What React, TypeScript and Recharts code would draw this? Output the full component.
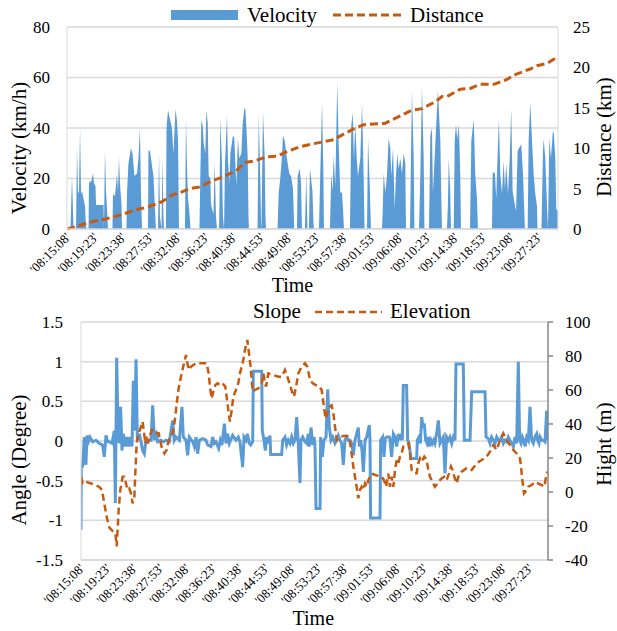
import React from 'react';
import { ComposedChart, Area, Line, XAxis, YAxis, CartesianGrid } from 'recharts';

// ---------- data ----------
const timeTickLabels = [
  '08:15:08', '08:19:23', '08:23:38', '08:27:53', '08:32:08', '08:36:23', '08:40:38', '08:44:53', '08:49:08',
  '08:53:23', '08:57:38', '09:01:53', '09:06:08', '09:10:23', '09:14:38', '09:18:53', '09:23:08', '09:27:23',
];
const endTime = '09:30:23';

// [seconds since 08:15:08, km/h]
const velocitySamples: [number, number][] = [
  [0,0],[32,0],[46,21],[60,0],[83,0],[92,32],[101,15],[110,14],[120,40],[129,14],[138,15],[152,12],[166,9],[175,0],
  [198,0],[202,18],[211,19],[221,18.5],[239,22],[248,18],[262,17],[267,9.5],[336,9.5],[340,0],[349,31],[359,15],[368,8],[377,0],
  [418,0],[423,14],[441,13],[460,22],[469,15],[478,28.6],[487,18],[501,10],[506,0],[547,0],[552,14.5],[565,26],[588,32],[602,30],
  [621,21],[644,22],[657,28],[671,40],[680,15],[690,0],[745,0],[749,31],[763,31],[782,25],[795,21],[809,8],[818,0],[837,0],
  [846,30],[855,5],[869,0],[878,28],[887,5],[892,0],[910,0],[915,40],[929,47],[947,43.5],[965,40],[979,30],[998,47.5],[1011,43],
  [1021,35],[1030,0],[1085,0],[1094,44],[1103,25],[1113,12],[1126,6],[1136,0],[1218,0],[1226,21],[1235,43],[1248,41],[1257,34],
  [1272,30],[1281,47],[1294,42],[1303,21],[1318,20],[1324,10],[1333,8],[1347,6],[1358,26],[1370,5],[1379,0],[1398,0],[1402,10],
  [1410,44],[1425,26],[1434,5],[1444,0],[1453,26],[1471,45],[1480,28],[1494,18],[1502,30],[1526,37],[1538,36],[1557,17],[1572,36],
  [1584,28],[1603,30],[1616,42],[1630,47.5],[1639,48],[1649,41],[1662,28],[1669,5],[1673,0],[1752,0],[1763,45],[1777,21],[1784,3],
  [1788,0],[1802,46.5],[1818,28],[1825,5],[1830,0],[1936,0],[1947,14.5],[1961,20],[1977,29],[1986,37],[2002,35],[2016,30],[2029,26],
  [2044,22],[2060,21],[2078,16],[2090,0],[2115,0],[2121,21],[2140,24],[2152,18],[2161,0],[2188,0],[2200,22],[2211,0],[2225,0],
  [2234,24],[2257,15],[2267,2],[2271,0],[2317,0],[2329,22],[2345,50],[2357,24],[2363,0],[2418,0],[2430,22],[2443,15],[2452,29],
  [2467,17],[2485,58],[2498,34],[2513,14.5],[2529,14.5],[2538,8],[2547,0],[2602,0],[2614,41],[2627,46],[2639,28],[2651,42],[2664,28],
  [2676,21],[2697,28],[2713,50],[2728,21],[2736,0],[2759,0],[2768,36],[2786,14.5],[2795,0],[2896,0],[2903,7],[2912,22],[2927,14.5],
  [2942,21],[2958,36],[2973,32],[2982,21],[2998,32],[3013,8],[3025,21],[3037,30],[3050,24],[3065,28],[3080,22],[3096,30],[3111,26],
  [3117,0],[3154,0],[3172,55],[3188,28],[3195,0],[3237,0],[3249,21],[3264,56],[3280,28],[3287,0],[3329,0],[3341,37],[3356,40],
  [3365,14.5],[3387,34],[3411,55],[3433,35],[3444,8],[3448,0],[3494,0],[3503,10],[3510,28],[3524,15],[3531,0],[3556,0],[3565,35],
  [3577,41.5],[3589,35.5],[3604,41.5],[3616,22],[3623,0],[3706,0],[3718,35],[3740,43.5],[3754,22],[3770,12],[3779,0],[3908,0],
  [3914,22],[3924,22.5],[3935,22],[3947,12],[3960,30],[3972,43.5],[3984,22],[4000,14],[4015,27],[4027,16],[4039,26],[4055,14],
  [4071,28],[4085,47.5],[4098,15],[4113,11],[4129,7],[4144,31],[4177,33.6],[4193,22],[4205,7],[4211,0],[4236,0],[4245,35],[4260,50],
  [4276,35],[4291,22],[4306,14],[4322,9],[4326,0],[4363,0],[4377,31],[4383,35.6],[4398,28],[4414,9],[4423,0],[4435,36],[4450,28],
  [4466,37.6],[4475,39],[4490,28],[4499,8],[4512,7],
];

// [seconds, km]
const distanceSamples: [number, number][] = [
  [0,0],[76,0.28],[230,0.9],[352,1.24],[490,1.73],[628,2.35],[751,2.76],[874,3.38],[965,4.2],[1057,4.6],[1131,5.0],[1223,5.2],
  [1315,5.85],[1441,6.47],[1563,7.3],[1639,8.25],[1717,8.4],[1839,8.95],[1931,9.0],[2023,9.57],[2145,10.2],[2283,10.6],[2437,11.0],
  [2498,11.4],[2559,11.85],[2651,12.5],[2728,12.9],[2927,13.1],[3050,13.9],[3172,14.7],[3264,14.9],[3387,15.75],[3448,16.4],
  [3494,16.4],[3616,17.3],[3708,17.4],[3800,17.9],[3924,17.9],[4046,18.5],[4107,19.05],[4199,19.5],[4260,19.8],[4322,20.2],
  [4414,20.5],[4506,21.25],[4515,21.3],
];

// [seconds, degree]
const slopeSamples: [number, number][] = [
  [0,-1.12],[3,-0.28],[16,-0.33],[32,0.05],[48,-0.3],[58,0.07],[74,0],[87,0.05],[113,-0.01],[145,0.01],[177,-0.03],[209,-0.05],
  [225,-0.2],[242,0.07],[258,-0.01],[274,-0.01],[300,-0.03],[322,0.13],[332,-0.78],[345,1.05],[358,0.13],[370,-0.03],[383,0.43],
  [396,-0.12],[409,0.09],[429,-0.07],[441,0.05],[461,-0.07],[474,0.05],[493,-0.07],[506,0.76],[519,0.13],[532,1.03],[545,0.01],
  [564,0.09],[583,-0.03],[596,-0.12],[612,-0.16],[628,0.01],[660,0.01],[677,0.01],[693,0.45],[709,0.01],[725,0.13],[741,-0.01],
  [773,0.01],[796,-0.01],[822,0.01],[854,-0.01],[886,0.26],[902,0.01],[918,0.05],[951,0.01],[976,0.43],[989,0.05],[1015,0.01],
  [1031,-0.18],[1047,0.05],[1080,-0.01],[1096,-0.07],[1112,0.05],[1128,-0.16],[1144,0.01],[1176,0.03],[1208,0.01],[1225,-0.05],
  [1257,-0.07],[1273,0.05],[1289,-0.03],[1305,-0.01],[1331,-0.09],[1347,0.01],[1363,-0.05],[1386,0.22],[1402,-0.03],[1418,0.09],
  [1434,-0.03],[1466,0.07],[1498,0.01],[1521,0.05],[1537,-0.01],[1563,-0.33],[1576,0.05],[1595,0.01],[1608,0.09],[1627,-0.03],
  [1640,-0.05],[1660,-0.01],[1666,0.88],[1747,0.88],[1753,0.13],[1769,0.01],[1782,-0.12],[1795,0.05],[1811,-0.03],[1827,0.07],
  [1834,-0.17],[1940,-0.17],[1950,0.01],[1972,0.05],[1988,-0.05],[2004,0.01],[2021,-0.03],[2037,0.05],[2053,-0.03],[2069,0.01],
  [2085,0.3],[2101,-0.03],[2117,-0.53],[2127,0.01],[2143,0.05],[2166,-0.01],[2182,-0.03],[2198,0.09],[2207,-0.07],[2224,0.17],
  [2240,-0.05],[2253,0.05],[2262,-0.05],[2272,-0.85],[2311,-0.85],[2317,0.05],[2333,-0.2],[2349,0.01],[2369,0.05],[2385,0.65],
  [2401,0.17],[2417,0.01],[2433,0.05],[2456,-0.03],[2472,0.01],[2488,0.07],[2504,0.01],[2520,-0.03],[2536,-0.3],[2552,0.01],
  [2568,0.05],[2585,0.01],[2601,0.01],[2617,-0.03],[2633,-0.18],[2649,0.01],[2665,0.09],[2681,0.17],[2691,-0.07],[2704,0.01],
  [2717,-0.12],[2730,-0.39],[2746,0.01],[2762,0.05],[2775,0.13],[2788,0.2],[2794,0.01],[2800,-0.97],[2891,-0.97],[2897,0.01],
  [2917,0.05],[2929,-0.2],[2942,0.03],[2955,0.05],[2981,0.05],[2987,0.03],[3003,-0.2],[3020,0.09],[3036,0.05],[3052,-0.07],
  [3068,0.09],[3084,0.01],[3094,0.09],[3107,0.01],[3116,0.7],[3148,0.7],[3158,0.01],[3171,-0.03],[3190,-0.22],[3245,-0.22],
  [3252,0.01],[3268,0.05],[3281,-0.03],[3294,0.3],[3306,0.17],[3319,0.22],[3332,0.01],[3345,-0.03],[3358,0.05],[3371,-0.07],
  [3384,0.01],[3397,-0.03],[3410,0.01],[3422,-0.03],[3442,0.13],[3455,0.26],[3471,-0.03],[3487,0.01],[3503,0.05],[3519,-0.41],
  [3535,0.05],[3551,0.01],[3567,0.05],[3584,-0.03],[3600,0.05],[3616,0.01],[3625,0.97],[3696,0.97],[3706,0.01],[3729,0.01],
  [3761,0.01],[3777,0.62],[3906,0.62],[3916,0.05],[3938,0.03],[3954,-0.03],[3970,0.05],[3986,0.01],[4003,-0.03],[4019,0.05],
  [4035,0.01],[4051,0.01],[4067,0.05],[4083,-0.03],[4099,0.01],[4115,-0.01],[4131,0.05],[4147,0.01],[4164,-0.03],[4180,-0.07],
  [4196,0.05],[4212,-0.03],[4228,1.0],[4241,0.01],[4254,-0.03],[4267,0.05],[4280,0.01],[4293,-0.07],[4309,0.05],[4325,0.01],
  [4341,0.43],[4357,0.01],[4373,-0.03],[4389,0.05],[4405,0.09],[4415,0.01],[4428,-0.03],[4438,0.05],[4454,0.01],[4470,0.01],
  [4486,-0.01],[4502,0.38],[4515,0.01],
];

// [seconds, m]
const elevationSamples: [number, number][] = [
  [0,9],[16,5],[48,6],[97,5],[145,4],[177,3],[203,1.2],[225,-6.7],[248,-14.5],[274,-21],[306,-23],[332,-24],[345,-32],[354,-22],
  [364,-10.6],[380,1.2],[403,9],[419,9],[435,5],[451,1.2],[467,2],[483,-0.8],[499,-6.7],[516,-2.7],[525,11],[538,28.6],[557,34.5],
  [580,38.4],[596,41.4],[606,36.5],[622,28.6],[635,32.5],[648,28.6],[667,33.5],[686,36.5],[709,36.5],[725,34.5],[751,34.5],
  [764,30.6],[783,25.7],[806,22.7],[828,24.7],[847,30.6],[870,32.5],[893,36.5],[912,44.3],[925,52],[944,61],[967,68],[989,74],
  [1015,80.6],[1031,74.7],[1047,71.8],[1063,73.7],[1086,74.7],[1112,75.7],[1160,75.7],[1215,75.7],[1234,69.8],[1247,62],[1263,55],
  [1279,59],[1299,62.9],[1321,63.9],[1344,62.9],[1369,63.9],[1395,62],[1408,56],[1424,48.2],[1440,41.4],[1457,48.2],[1473,56.1],
  [1498,60],[1521,64],[1537,69.8],[1553,73.7],[1569,77.6],[1585,83.5],[1608,89.4],[1624,81.6],[1640,73.7],[1650,65.9],[1660,59],
  [1682,60],[1714,61],[1747,63.9],[1763,69.8],[1779,63.9],[1789,62],[1811,69.8],[1859,68.8],[1908,67.8],[1940,67.8],[1972,71.8],
  [1995,67.8],[2021,62.9],[2046,58],[2059,56.1],[2079,61.9],[2101,69.8],[2133,73.7],[2166,75.7],[2188,73.7],[2214,65.9],[2240,63.9],
  [2272,62.9],[2304,61.9],[2327,60],[2349,50],[2365,43.1],[2385,47.1],[2401,50],[2423,51],[2440,46.1],[2456,38.4],[2472,30.6],
  [2504,32.5],[2536,32.9],[2575,32.9],[2594,31.6],[2607,26.7],[2620,20.8],[2633,15],[2649,9],[2665,3.1],[2681,-3.7],[2697,1.2],
  [2713,3.1],[2730,1.2],[2746,5],[2762,3.1],[2778,7],[2810,10.8],[2858,9.8],[2907,9],[2929,7],[2949,3.1],[2971,10.8],[2987,3.1],
  [3003,9],[3020,3.1],[3036,12.9],[3052,18.8],[3068,16.9],[3084,20.8],[3100,22.7],[3116,26.7],[3139,27.6],[3165,28.6],[3181,22.7],
  [3197,12.9],[3223,11],[3245,11],[3261,16.9],[3277,19.8],[3293,17.9],[3319,20.8],[3342,18.8],[3358,12.9],[3374,9],[3406,5],
  [3422,3.1],[3448,5],[3471,7],[3487,8],[3513,9],[3535,7],[3558,11],[3577,15],[3593,12.9],[3609,9],[3632,5],[3648,9],[3680,12],
  [3729,14],[3777,12.9],[3825,16.9],[3874,18.8],[3922,20.8],[3954,23.7],[3986,27.6],[4019,24.7],[4051,30.6],[4083,34.5],[4115,30.6],
  [4147,27.6],[4180,24.7],[4212,22.7],[4228,20.8],[4244,19.8],[4254,14.9],[4267,7],[4283,-0.8],[4309,1.2],[4325,3.1],[4357,4.1],
  [4389,6],[4421,5],[4454,4.1],[4480,3.1],[4496,9],[4509,12],
];

const velocityTicks = [0, 20, 40, 60, 80];
const distanceTicks = [0, 5, 10, 15, 20, 25];
const angleTicks = [-1.5, -1, -0.5, 0, 0.5, 1, 1.5];
const heightTicks = [-40, -20, 0, 20, 40, 60, 80, 100];

// ---------- helpers ----------
const FONT = "'Liberation Serif', 'Times New Roman', Times, 'DejaVu Serif', serif";
const BLUE = '#5B9BD5';
const ORANGE = '#C55A11';
const GRID = '#D9D9D9';

const toSec = (s: string) => {
  const [h, m, x] = s.split(':').map(Number);
  return h * 3600 + m * 60 + x;
};
const START = toSec(timeTickLabels[0]);
const END = toSec(endTime) - START;
const tickOffsets = timeTickLabels.map((l) => toSec(l) - START);
const pad = (n: number) => String(n).padStart(2, '0');
const fmtTime = (v: number) => {
  const s = START + Math.round(v);
  return `'${pad(Math.floor(s / 3600))}:${pad(Math.floor((s % 3600) / 60))}:${pad(s % 60)}'`;
};

function merge(series: Record<string, [number, number][]>) {
  const map = new Map<number, any>();
  Object.entries(series).forEach(([key, arr]) => {
    arr.forEach(([t, v]) => {
      const row = map.get(t) ?? { t };
      row[key] = v;
      map.set(t, row);
    });
  });
  return Array.from(map.values()).sort((a, b) => a.t - b.t);
}

const topData = merge({ vel: velocitySamples, dist: distanceSamples });
const bottomData = merge({ slope: slopeSamples, elev: elevationSamples });

const serif = { fontFamily: FONT };

const TimeTick = (props: any) => {
  const { x, y, payload } = props;
  const px = x + 1;
  const py = y;
  return (
    <text
      x={px}
      y={py}
      transform={`rotate(-45 ${px} ${py})`}
      textAnchor="end"
      dominantBaseline="central"
      fontSize={13}
      style={serif}
      fill="#000"
    >
      {fmtTime(payload.value)}
    </text>
  );
};

const NumTick = (props: any) => {
  const { x, y, payload, textAnchor } = props;
  return (
    <text x={x} y={y} dy="0.35em" textAnchor={textAnchor} fontSize={17} style={serif} fill="#000">
      {payload.value}
    </text>
  );
};

const T = (p: any) => <text {...p} style={serif} fill="#000" />;

export default function App() {
  return (
    <div style={{ position: 'absolute', left: 0, top: 0, width: 617, height: 631, background: '#fff', fontFamily: FONT }}>
      {/* Top chart */}
      <div style={{ position: 'absolute', left: 0, top: 0 }}>
        <ComposedChart width={617} height={290} data={topData} margin={{ top: 27, right: 0, left: 0, bottom: 0 }}>
          <CartesianGrid vertical={false} stroke={GRID} strokeWidth={1.5} yAxisId="v" />
          <XAxis
            dataKey="t"
            type="number"
            domain={[0, END]}
            ticks={tickOffsets}
            interval={0}
            height={61}
            tickSize={0}
            tickMargin={6}
            tickLine={false}
            axisLine={{ stroke: GRID, strokeWidth: 1.5 }}
            tick={<TimeTick />}
            allowDataOverflow
          />
          <YAxis
            yAxisId="v"
            orientation="left"
            width={67}
            domain={[0, 80]}
            ticks={velocityTicks}
            tickSize={0}
            tickMargin={17}
            tickLine={false}
            axisLine={{ stroke: GRID }}
            tick={<NumTick />}
          />
          <YAxis
            yAxisId="d"
            orientation="right"
            width={59}
            domain={[0, 25]}
            ticks={distanceTicks}
            tickSize={0}
            tickMargin={15}
            tickLine={false}
            axisLine={{ stroke: GRID }}
            tick={<NumTick />}
          />
          <Area
            yAxisId="v"
            type="linear"
            dataKey="vel"
            stroke="none"
            fill={BLUE}
            fillOpacity={1}
            connectNulls
            dot={false}
            activeDot={false}
            isAnimationActive={false}
          />
          <Line
            yAxisId="d"
            type="linear"
            dataKey="dist"
            stroke={ORANGE}
            strokeWidth={3}
            strokeDasharray="8 4"
            connectNulls
            dot={false}
            activeDot={false}
            isAnimationActive={false}
          />
        </ComposedChart>
      </div>

      {/* Bottom chart */}
      <div style={{ position: 'absolute', left: 0, top: 290 }}>
        <ComposedChart width={617} height={341} data={bottomData} margin={{ top: 32, right: 0, left: 0, bottom: 0 }}>
          <CartesianGrid vertical={false} stroke={GRID} strokeWidth={1.5} yAxisId="a" />
          <XAxis
            dataKey="t"
            type="number"
            domain={[0, END]}
            ticks={tickOffsets}
            interval={0}
            height={71}
            tickSize={0}
            tickMargin={6}
            tickLine={false}
            axisLine={{ stroke: GRID, strokeWidth: 1.5 }}
            tick={<TimeTick />}
            allowDataOverflow
          />
          <YAxis
            yAxisId="a"
            orientation="left"
            width={81}
            domain={[-1.5, 1.5]}
            ticks={angleTicks}
            tickSize={0}
            tickMargin={18}
            tickLine={false}
            axisLine={{ stroke: GRID }}
            tick={<NumTick />}
          />
          <YAxis
            yAxisId="h"
            orientation="right"
            width={69}
            domain={[-40, 100]}
            ticks={heightTicks}
            tickSize={5}
            tickMargin={12}
            tickLine={{ stroke: '#868686', strokeWidth: 1.5 }}
            axisLine={{ stroke: '#868686', strokeWidth: 1.5 }}
            tick={<NumTick />}
          />
          <Line
            yAxisId="a"
            type="linear"
            dataKey="slope"
            stroke={BLUE}
            strokeWidth={3}
            connectNulls
            dot={false}
            activeDot={false}
            isAnimationActive={false}
          />
          <Line
            yAxisId="h"
            type="linear"
            dataKey="elev"
            stroke={ORANGE}
            strokeWidth={2.5}
            strokeDasharray="7 4"
            connectNulls
            dot={false}
            activeDot={false}
            isAnimationActive={false}
          />
        </ComposedChart>
      </div>

      {/* Titles and legends */}
      <svg width={617} height={631} style={{ position: 'absolute', left: 0, top: 0, pointerEvents: 'none' }}>
        {/* top legend */}
        <rect x={171} y={10} width={67} height={10} fill={BLUE} />
        <T x={247} y={22} fontSize={21}>Velocity</T>
        <line x1={333} y1={15} x2={402} y2={15} stroke={ORANGE} strokeWidth={3} strokeDasharray="8 4" />
        <T x={410} y={22} fontSize={21}>Distance</T>
        {/* top axis titles */}
        <T x={25.7} y={148} fontSize={21} textAnchor="middle" transform="rotate(-90 25.7 148)">Velocity (km/h)</T>
        <T x={611} y={137} fontSize={21} textAnchor="middle" transform="rotate(-90 611 137)">Distance (km)</T>
        <T x={292.5} y={292} fontSize={20} textAnchor="middle">Time</T>
        {/* bottom legend */}
        <T x={253} y={318} fontSize={21}>Slope</T>
        <line x1={315} y1={312} x2={382} y2={312} stroke={ORANGE} strokeWidth={2.5} strokeDasharray="7 4" />
        <T x={390} y={318} fontSize={21}>Elevation</T>
        {/* bottom axis titles */}
        <T x={25.7} y={460} fontSize={21} textAnchor="middle" transform="rotate(-90 25.7 460)">Angle (Degree)</T>
        <T x={611} y={444} fontSize={21} textAnchor="middle" transform="rotate(-90 611 444)">Hight (m)</T>
        <T x={313.3} y={625} fontSize={20} textAnchor="middle">Time</T>
      </svg>
    </div>
  );
}
